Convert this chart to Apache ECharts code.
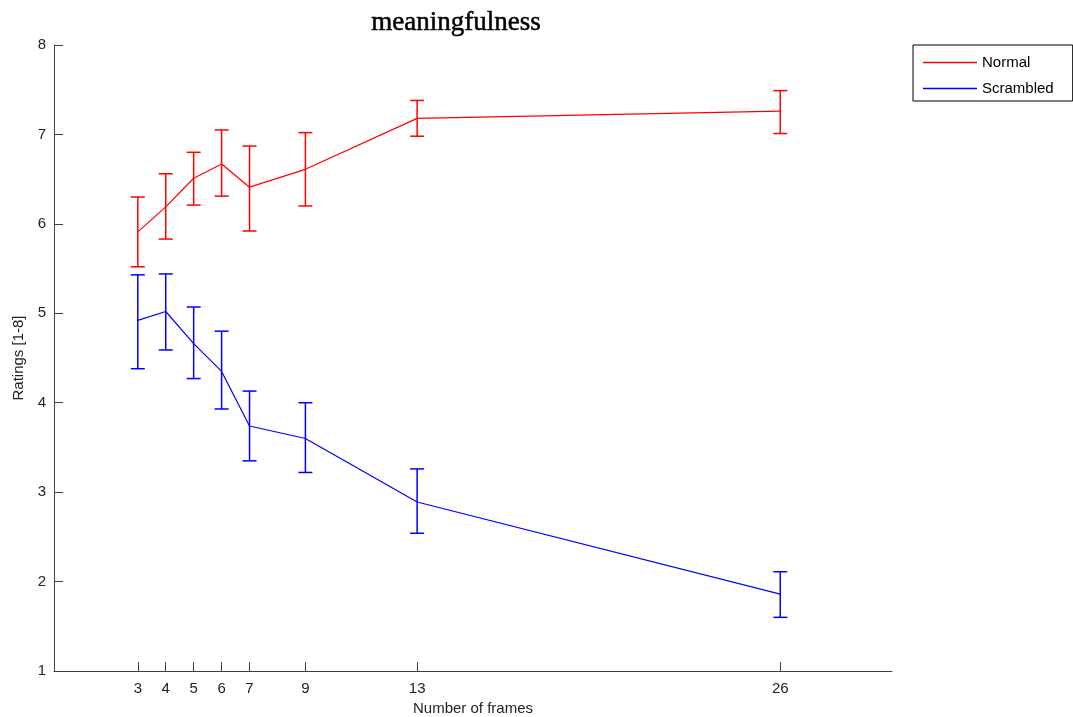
<!DOCTYPE html>
<html>
<head>
<meta charset="utf-8">
<script src="https://cdn.jsdelivr.net/npm/echarts@6/dist/echarts.min.js"></script>
<style>
  html, body { margin: 0; padding: 0; background: #fff; }
  #chart { width: 1073px; height: 717px; }
</style>
</head>
<body>
<div id="chart"></div>
<script>
// frame counts (x axis)
var frames = [3, 4, 5, 6, 7, 9, 13, 26]

// normal condition: mean and error bar ends
var normalMean = [5.91, 6.19, 6.51, 6.67, 6.41, 6.61, 7.18, 7.26]
var normalLow = [5.52, 5.83, 6.21, 6.31, 5.92, 6.20, 6.98, 7.01]
var normalHigh = [6.30, 6.56, 6.80, 7.05, 6.87, 7.02, 7.38, 7.49]

// scrambled condition
var scrambledMean = [4.92, 5.02, 4.66, 4.35, 3.74, 3.60, 2.89, 1.86]
var scrambledLow = [4.38, 4.59, 4.27, 3.93, 3.35, 3.22, 2.54, 1.60]
var scrambledHigh = [5.43, 5.44, 5.07, 4.80, 4.13, 4.00, 3.26, 2.11]

var yTicks = [1, 2, 3, 4, 5, 6, 7, 8]

function pairs(xs, ys) {
  return xs.map(function (x, i) { return [x, ys[i]] })
}

function bars(xs, lo, hi) {
  return xs.map(function (x, i) { return [x, lo[i], hi[i]] })
}

// draws a vertical error bar with caps
function errorBar(color) {
  return function (params, api) {
    var top = api.coord([api.value(0), api.value(2)])
    var bot = api.coord([api.value(0), api.value(1)])
    var w = 7
    var st = { stroke: color, lineWidth: 1.5 }
    return {
      type: 'group',
      children: [
        { type: 'line', shape: { x1: top[0], y1: top[1], x2: bot[0], y2: bot[1] }, style: st },
        { type: 'line', shape: { x1: top[0] - w, y1: top[1], x2: top[0] + w, y2: top[1] }, style: st },
        { type: 'line', shape: { x1: bot[0] - w, y1: bot[1], x2: bot[0] + w, y2: bot[1] }, style: st }
      ]
    }
  }
}

var axisFont = { fontFamily: 'Liberation Sans', fontSize: 15, color: '#222' }

var option = {
  animation: false,
  backgroundColor: '#fff',
  graphic: [{
    type: 'text',
    x: 456,
    y: 23,
    style: {
      text: 'meaningfulness',
      font: 'normal 27px "Liberation Serif"',
      fill: '#000',
      stroke: '#000',
      lineWidth: 0.5,
      textAlign: 'center',
      textVerticalAlign: 'middle'
    }
  }],
  grid: { left: 54, right: 181, top: 45, bottom: 46, outerBoundsMode: 'none' },
  legend: {
    orient: 'vertical',
    left: 913,
    top: 45,
    padding: [10, 19, 5, 10],
    itemGap: 11,
    itemWidth: 54,
    itemHeight: 1.5,
    icon: 'rect',
    borderColor: '#000',
    borderWidth: 1,
    textStyle: { fontFamily: 'Liberation Sans', fontSize: 15, color: '#000' },
    data: ['Normal', 'Scrambled']
  },
  xAxis: {
    type: 'value',
    min: 0,
    max: 30,
    name: 'Number of frames',
    nameLocation: 'middle',
    nameGap: 30,
    nameTextStyle: axisFont,
    axisLine: { lineStyle: { color: '#404040', width: 1 } },
    axisTick: { inside: true, length: 9, customValues: frames, lineStyle: { color: '#404040' } },
    axisLabel: Object.assign({ customValues: frames, margin: 10 }, axisFont),
    splitLine: { show: false }
  },
  yAxis: {
    type: 'value',
    min: 1,
    max: 8,
    interval: 1,
    name: 'Ratings [1-8]',
    nameLocation: 'middle',
    nameGap: 28,
    nameTextStyle: axisFont,
    axisLine: { show: true, lineStyle: { color: '#404040', width: 1 } },
    axisTick: { show: true, inside: true, length: 9, customValues: yTicks, lineStyle: { color: '#404040' } },
    axisLabel: Object.assign({ margin: 8 }, axisFont),
    splitLine: { show: false }
  },
  series: [
    {
      name: 'Normal',
      type: 'line',
      data: pairs(frames, normalMean),
      symbol: 'none',
      color: '#ff0000',
      lineStyle: { color: '#ff0000', width: 1.2 }
    },
    {
      name: 'Scrambled',
      type: 'line',
      data: pairs(frames, scrambledMean),
      symbol: 'none',
      color: '#0000ff',
      lineStyle: { color: '#0000ff', width: 1.2 }
    },
    {
      name: 'NormalErr',
      type: 'custom',
      renderItem: errorBar('#ff0000'),
      encode: { x: 0, y: [1, 2] },
      data: bars(frames, normalLow, normalHigh)
    },
    {
      name: 'ScrambledErr',
      type: 'custom',
      renderItem: errorBar('#0000ff'),
      encode: { x: 0, y: [1, 2] },
      data: bars(frames, scrambledLow, scrambledHigh)
    }
  ]
}

var chart = echarts.init(document.getElementById('chart'))
chart.setOption(option)
</script>
</body>
</html>
